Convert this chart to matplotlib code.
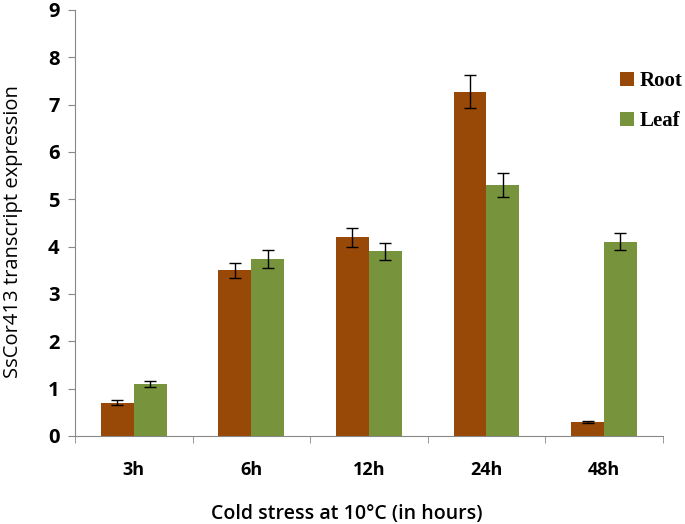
import matplotlib
matplotlib.use("Agg")
import matplotlib.pyplot as plt
import numpy as np

# cold stress time points
hours = ["3h", "6h", "12h", "24h", "48h"]
root = [0.70, 3.50, 4.20, 7.27, 0.30]
root_err = [0.05, 0.16, 0.20, 0.35, 0.02]
leaf = [1.10, 3.73, 3.90, 5.30, 4.10]
leaf_err = [0.07, 0.19, 0.18, 0.25, 0.18]

plt.rcParams['font.family'] = ['Open Sans', 'DejaVu Sans']

fig = plt.figure(figsize=(6.85, 5.24), dpi=100)
ax = fig.add_axes([0.1095, 0.168, 0.858, 0.813])

x = np.arange(len(hours))
w = 0.28
err_kw = dict(ecolor='black', elinewidth=1, capsize=4, capthick=1)
ax.bar(x - w/2, root, w, yerr=root_err, color='#984807', label='Root', error_kw=err_kw)
ax.bar(x + w/2, leaf, w, yerr=leaf_err, color='#77933C', label='Leaf', error_kw=err_kw)

ax.set_xlim(-0.5, len(hours) - 0.5)
ax.set_ylim(0, 9)
ax.set_yticks(range(10))
ax.set_xticks(x)
ax.set_xticklabels(hours, fontsize=13, fontweight='bold')
ax.set_xticks(np.arange(len(hours) + 1) - 0.5, minor=True)
ax.tick_params(axis='x', which='major', length=0, pad=18)
ax.tick_params(axis='x', which='minor', length=5, color='#888888')
ax.tick_params(axis='y', length=5, color='#888888', labelsize=14.5, pad=6)
for t in ax.get_yticklabels():
    t.set_fontweight('bold')

for s in ['top', 'right']:
    ax.spines[s].set_visible(False)
for s in ['left', 'bottom']:
    ax.spines[s].set_color('#888888')

ax.set_ylabel('SsCor413 transcript expression', fontsize=14.5)
ax.yaxis.set_label_coords(-0.088, 0.48)
ax.set_xlabel('Cold stress at 10°C (in hours)', fontsize=14, fontweight='semibold')
ax.xaxis.set_label_coords(0.463, -0.16)

ax.legend(loc='upper left', bbox_to_anchor=(0.893, 0.88), bbox_transform=fig.transFigure,
          frameon=False, handlelength=0.65, handleheight=0.65, handletextpad=0.3,
          labelspacing=0.95, borderaxespad=0,
          prop=dict(family='Liberation Serif', weight='bold', size=15))

fig.savefig('out.png', dpi=100)
